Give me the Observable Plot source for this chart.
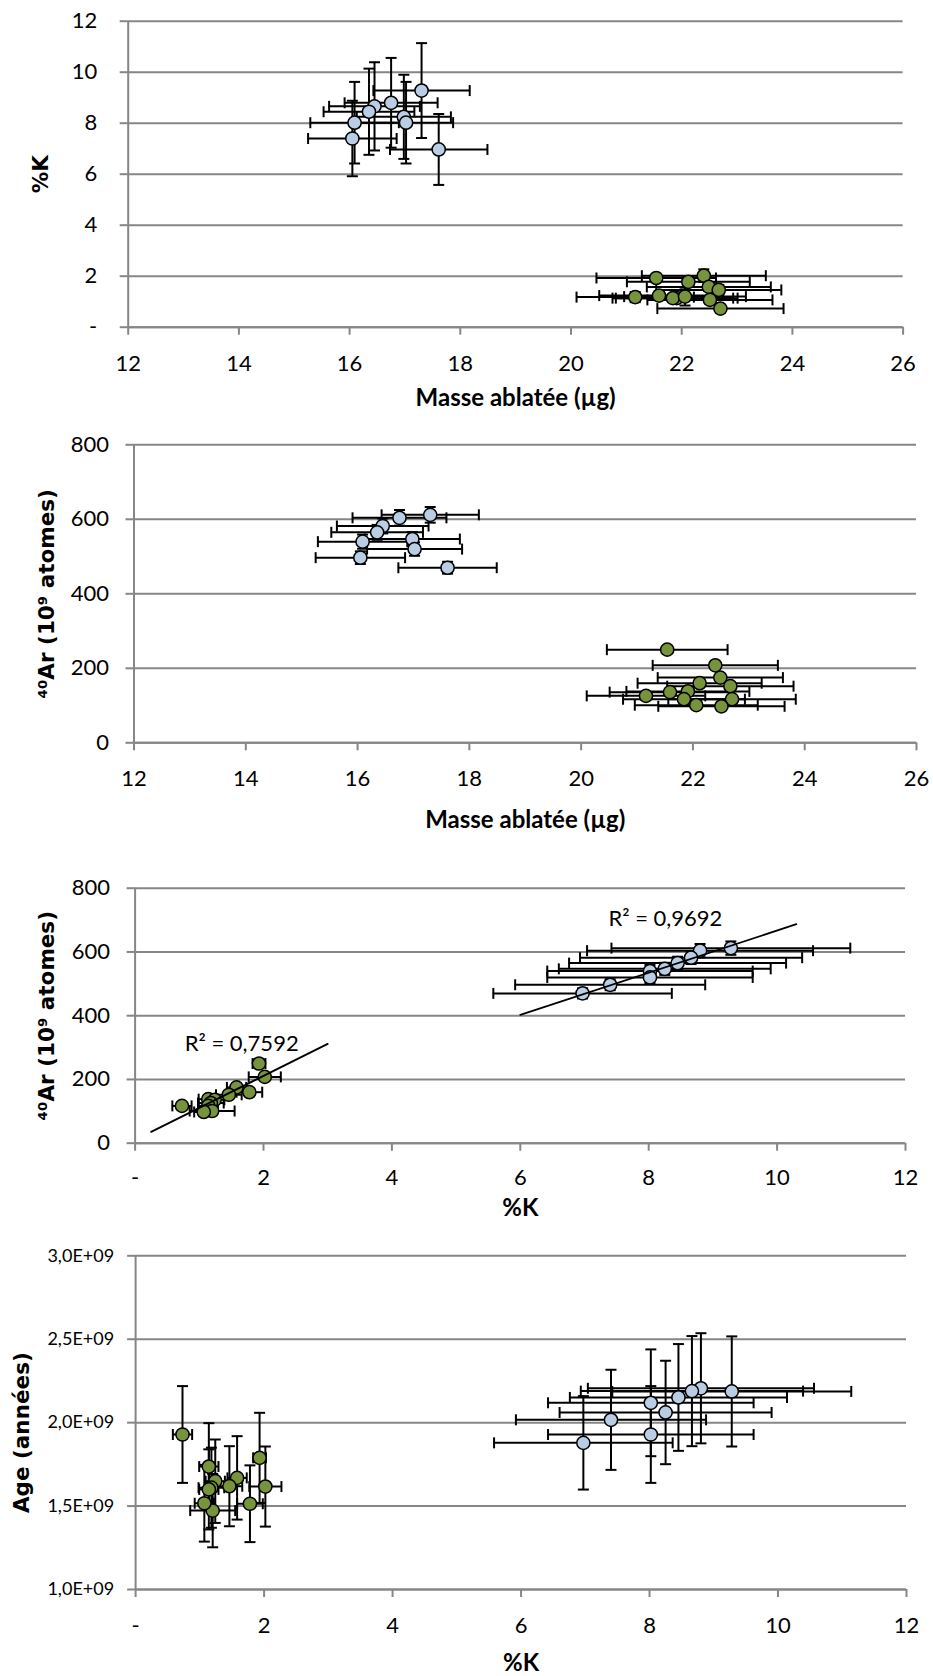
<!DOCTYPE html>
<html>
<head>
<meta charset="utf-8">
<script src="https://cdn.jsdelivr.net/npm/d3@7"></script>
<script src="https://cdn.jsdelivr.net/npm/@observablehq/plot@0.6"></script>
<style>
  body { margin: 0; background: #ffffff; }
  #charts svg { display: block; }
</style>
</head>
<body>
<div id="charts"></div>
<script>
// ---------------- DATA ----------------
// Blue series (9 samples)
const blueMass    = [17.30, 16.75, 16.45, 16.35, 16.09, 16.98, 17.02, 16.05, 17.61];
const blueMassErr = [0.87, 0.84, 0.82, 0.82, 0.80, 0.85, 0.85, 0.80, 0.88];
const blueK       = [9.28, 8.80, 8.66, 8.45, 8.02, 8.25, 8.02, 7.40, 6.97];
const blueKErr    = [1.86, 1.76, 1.73, 1.69, 1.60, 1.65, 1.60, 1.48, 1.39];
const blueAr      = [612, 604, 582, 565, 540, 547, 520, 497, 470];
const blueArErr   = [21, 21, 20, 20, 19, 19, 18, 17, 16];
const blueAge     = [2.187e9, 2.206e9, 2.189e9, 2.151e9, 2.119e9, 2.061e9, 1.929e9, 2.017e9, 1.879e9];
const blueAgeErr  = [0.33e9, 0.33e9, 0.33e9, 0.32e9, 0.32e9, 0.31e9, 0.29e9, 0.30e9, 0.28e9];

// Green series (12 samples)
const greenMass    = [21.54, 22.40, 22.49, 22.12, 22.67, 21.91, 21.59, 21.16, 21.84, 22.70, 22.06, 22.51];
const greenMassErr = [1.08, 1.12, 1.12, 1.11, 1.13, 1.10, 1.08, 1.06, 1.09, 1.14, 1.10, 1.13];
const greenK       = [1.93, 2.02, 1.58, 1.78, 1.46, 1.14, 1.24, 1.18, 1.14, 0.73, 1.20, 1.07];
const greenKErr    = [0.10, 0.25, 0.15, 0.20, 0.20, 0.15, 0.15, 0.20, 0.15, 0.15, 0.35, 0.15];
const greenAr      = [250, 208, 175, 160, 152, 138, 136, 126, 117, 117, 101, 98];
const greenArErr   = [8, 7, 6, 6, 5, 5, 5, 4, 4, 4, 4, 3];
const greenAge     = [1.789e9, 1.617e9, 1.669e9, 1.514e9, 1.619e9, 1.737e9, 1.649e9, 1.610e9, 1.600e9, 1.929e9, 1.473e9, 1.517e9];
const greenAgeErr  = [0.27e9, 0.24e9, 0.25e9, 0.23e9, 0.24e9, 0.26e9, 0.25e9, 0.24e9, 0.24e9, 0.29e9, 0.22e9, 0.23e9];

// Trendline extents (Excel forecast range) and R² labels
const blueTrendRange  = [6.0, 10.3];
const greenTrendRange = [0.25, 3.0];
const blueR2Label  = "R² = 0,9692";
const greenR2Label = "R² = 0,7592";
const blueR2At  = [8.26, 704];
const greenR2At = [1.66, 312];

// Axis ticks and titles
const massTicks = [12, 14, 16, 18, 20, 22, 24, 26];
const kTicksY   = [0, 2, 4, 6, 8, 10, 12];
const kTicksX   = [0, 2, 4, 6, 8, 10, 12];
const arTicks   = [0, 200, 400, 600, 800];
const ageTicks  = [1.0e9, 1.5e9, 2.0e9, 2.5e9, 3.0e9];
const titleMass = "Masse ablatée (µg)";
const titleK    = "%K";
const titleAr   = "⁴⁰Ar (10⁹ atomes)";
const titleAge  = "Age (années)";

// ---------------- BUILD ----------------
function table(mass, massErr, K, KErr, Ar, ArErr, age, ageErr) {
  return mass.map((m, i) => ({
    mass: m, massErr: massErr[i], K: K[i], KErr: KErr[i],
    Ar: Ar[i], ArErr: ArErr[i], age: age[i], ageErr: ageErr[i]
  }));
}
const blue  = table(blueMass, blueMassErr, blueK, blueKErr, blueAr, blueArErr, blueAge, blueAgeErr);
const green = table(greenMass, greenMassErr, greenK, greenKErr, greenAr, greenArErr, greenAge, greenAgeErr);

const GRID = "#868686";
const BLUE = "#B9CDE5";
const GREEN = "#77933C";
const TICKFONT = "Lato, 'Open Sans', sans-serif";
const TITLEFONT = "'DejaVu Sans', Verdana, sans-serif";

const capV = {draw(ctx, size) { const r = Math.sqrt(size / Math.PI); ctx.moveTo(0, -r); ctx.lineTo(0, r); }};
const capH = {draw(ctx, size) { const r = Math.sqrt(size / Math.PI); ctx.moveTo(-r, 0); ctx.lineTo(r, 0); }};
const CAP = 5.5, EW = 2;

function xErr(data, xk, ek, yk) {
  return [
    Plot.ruleY(data, {y: yk, x1: d => d[xk] - d[ek], x2: d => d[xk] + d[ek], stroke: "black", strokeWidth: EW}),
    Plot.dot(data, {x: d => d[xk] - d[ek], y: yk, symbol: capV, r: CAP, stroke: "black", strokeWidth: EW, fill: "none"}),
    Plot.dot(data, {x: d => d[xk] + d[ek], y: yk, symbol: capV, r: CAP, stroke: "black", strokeWidth: EW, fill: "none"})
  ];
}
function yErr(data, yk, ek, xk) {
  return [
    Plot.ruleX(data, {x: xk, y1: d => d[yk] - d[ek], y2: d => d[yk] + d[ek], stroke: "black", strokeWidth: EW}),
    Plot.dot(data, {y: d => d[yk] - d[ek], x: xk, symbol: capH, r: CAP, stroke: "black", strokeWidth: EW, fill: "none"}),
    Plot.dot(data, {y: d => d[yk] + d[ek], x: xk, symbol: capH, r: CAP, stroke: "black", strokeWidth: EW, fill: "none"})
  ];
}
function dots(data, xk, yk, fill) {
  return Plot.dot(data, {x: xk, y: yk, r: 6.6, fill, stroke: "black", strokeWidth: 1.5});
}
function fit(xs, ys) {
  const mx = d3.mean(xs), my = d3.mean(ys);
  const sxy = d3.sum(xs, (x, i) => (x - mx) * (ys[i] - my));
  const sxx = d3.sum(xs, x => (x - mx) ** 2);
  const b = sxy / sxx;
  return x => my + b * (x - mx);
}
const dashFmt = d => d === 0 ? "-" : String(d);
const ageFmt = d => (d / 1e9).toFixed(1).replace(".", ",") + "E+09";

function panel(cfg) {
  const [x0] = cfg.xDomain, [y0] = cfg.yDomain;
  return Plot.plot({
    width: 933, height: cfg.height,
    marginTop: cfg.mt, marginBottom: cfg.mb, marginLeft: cfg.ml, marginRight: cfg.mr,
    x: {domain: cfg.xDomain},
    y: {domain: cfg.yDomain},
    style: {fontFamily: TICKFONT, fontSize: "22px", color: "black", background: "white", overflow: "visible"},
    marks: [
      Plot.gridY(cfg.yTicks, {stroke: GRID, strokeOpacity: 1, strokeWidth: 2}),
      Plot.ruleX([x0], {stroke: GRID, strokeWidth: 2}),
      Plot.ruleY([y0], {stroke: GRID, strokeWidth: 2}),
      Plot.axisY(cfg.yTicks, {tickSize: 8, tickPadding: cfg.yPad, tickFormat: cfg.yFmt, stroke: GRID, strokeWidth: 2, label: null, fontSize: cfg.yFont || 22}),
      Plot.axisX(cfg.xTicks, {tickSize: 8, tickPadding: cfg.xPad, tickFormat: cfg.xFmt, stroke: GRID, strokeWidth: 2, label: null}),
      ...cfg.marks,
      Plot.text([cfg.xTitle], {frameAnchor: "bottom", dy: cfg.xTitleDy, text: d => d, fontWeight: "bold", fontSize: 24, fontFamily: TICKFONT, lineAnchor: "middle", textAnchor: "middle"}),
      Plot.text([cfg.yTitle], {frameAnchor: "left", dx: cfg.yTitleDx, dy: cfg.yTitleDy || 0, text: d => d, rotate: -90, fontWeight: "bold", fontSize: 21.5, fontFamily: TITLEFONT, lineAnchor: "middle", textAnchor: "middle"})
    ]
  });
}

const blueFit = fit(blueK, blueAr);
const greenFit = fit(greenK, greenAr);
const blueTrend = blueTrendRange.map(x => ({x, y: blueFit(x)}));
const greenTrend = greenTrendRange.map(x => ({x, y: greenFit(x)}));

const charts = document.getElementById("charts");

charts.append(panel({
  height: 420, mt: 20.7, mb: 93.3, ml: 127.7, mr: 30.4,
  xDomain: [12, 26], yDomain: [0, 12], xTicks: massTicks, yTicks: kTicksY,
  xFmt: String, yFmt: dashFmt, xPad: 20, yPad: 23,
  xTitle: titleMass, xTitleDy: 71, yTitle: titleK, yTitleDx: -87,
  marks: [
    ...xErr(blue, "mass", "massErr", "K"), ...yErr(blue, "K", "KErr", "mass"),
    ...xErr(green, "mass", "massErr", "K"), ...yErr(green, "K", "KErr", "mass"),
    dots(blue, "mass", "K", BLUE), dots(green, "mass", "K", GREEN)
  ]
}));

charts.append(panel({
  height: 430, mt: 24.3, mb: 107.7, ml: 133.5, mr: 17,
  xDomain: [12, 26], yDomain: [0, 800], xTicks: massTicks, yTicks: arTicks,
  xFmt: String, yFmt: String, xPad: 20, yPad: 17,
  xTitle: titleMass, xTitleDy: 78, yTitle: titleAr, yTitleDx: -87,
  marks: [
    ...xErr(blue, "mass", "massErr", "Ar"), ...yErr(blue, "Ar", "ArErr", "mass"),
    ...xErr(green, "mass", "massErr", "Ar"), ...yErr(green, "Ar", "ArErr", "mass"),
    dots(blue, "mass", "Ar", BLUE), dots(green, "mass", "Ar", GREEN)
  ]
}));

charts.append(panel({
  height: 380, mt: 37.7, mb: 87.3, ml: 134.6, mr: 28,
  xDomain: [0, 12], yDomain: [0, 800], xTicks: kTicksX, yTicks: arTicks,
  xFmt: dashFmt, yFmt: String, xPad: 18.6, yPad: 17,
  xTitle: titleK, xTitleDy: 65, yTitle: titleAr, yTitleDx: -88,
  marks: [
    ...xErr(blue, "K", "KErr", "Ar"), ...yErr(blue, "Ar", "ArErr", "K"),
    ...xErr(green, "K", "KErr", "Ar"), ...yErr(green, "Ar", "ArErr", "K"),
    dots(blue, "K", "Ar", BLUE), dots(green, "K", "Ar", GREEN),
    Plot.line(blueTrend, {x: "x", y: "y", stroke: "black", strokeWidth: 1.8}),
    Plot.line(greenTrend, {x: "x", y: "y", stroke: "black", strokeWidth: 1.8}),
    Plot.text([blueR2Label], {x: blueR2At[0], y: blueR2At[1], text: d => d, fontSize: 22, fontFamily: TICKFONT}),
    Plot.text([greenR2Label], {x: greenR2At[0], y: greenR2At[1], text: d => d, fontSize: 22, fontFamily: TICKFONT})
  ]
}));

charts.append(panel({
  height: 446, mt: 25.3, mb: 87, ml: 135.1, mr: 27,
  xDomain: [0, 12], yDomain: [1e9, 3e9], xTicks: kTicksX, yTicks: ageTicks,
  xFmt: dashFmt, yFmt: ageFmt, xPad: 20, yPad: 13.5, yFont: 18,
  xTitle: titleK, xTitleDy: 74, yTitle: titleAge, yTitleDx: -113.6, yTitleDy: 10,
  marks: [
    ...xErr(blue, "K", "KErr", "age"), ...yErr(blue, "age", "ageErr", "K"),
    ...xErr(green, "K", "KErr", "age"), ...yErr(green, "age", "ageErr", "K"),
    dots(blue, "K", "age", BLUE), dots(green, "K", "age", GREEN)
  ]
}));
</script>
</body>
</html>
